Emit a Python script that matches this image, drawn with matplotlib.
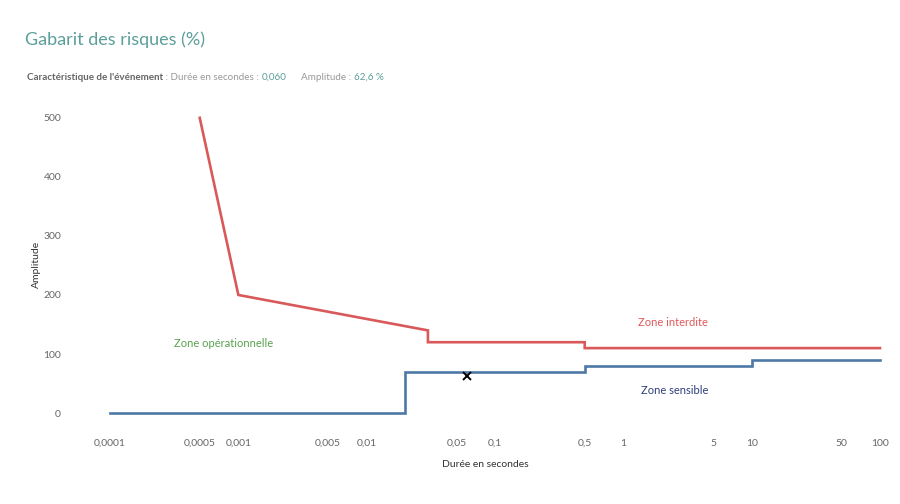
import numpy as np
import matplotlib.pyplot as plt

plt.rcParams['font.family'] = ['Lato', 'DejaVu Sans']

# gabarit (limites) : durée en secondes, amplitude en %
rouge_x = [0.0005, 0.001, 0.03, 0.03, 0.5, 0.5, 100]
rouge_y = [500, 200, 140, 120, 120, 110, 110]
bleu_x = [0.0001, 0.02, 0.02, 0.5, 0.5, 10, 10, 100]
bleu_y = [0, 0, 70, 70, 80, 80, 90, 90]

# événement
evt_duree = 0.060
evt_amplitude = 62.6

ticks_x = [0.0001, 0.0005, 0.001, 0.005, 0.01, 0.05, 0.1, 0.5, 1, 5, 10, 50, 100]
ticks_x_labels = ['0,0001', '0,0005', '0,001', '0,005', '0,01', '0,05', '0,1',
                  '0,5', '1', '5', '10', '50', '100']
ticks_y = [0, 100, 200, 300, 400, 500]

gris = '#666666'
teal = '#5b9e9a'

fig = plt.figure(figsize=(9, 5.04), dpi=100)
ax = fig.add_axes([75/900, 0.157, 820/900, 0.635])

ax.plot(rouge_x, rouge_y, color='#d9595a', lw=1.9, solid_joinstyle='miter')
ax.plot(bleu_x, bleu_y, color='#4e79a7', lw=1.9, solid_joinstyle='miter')
ax.plot(evt_duree, evt_amplitude, marker='x', color='black', ms=6, mew=1.4)

ax.set_xscale('log')
ax.set_xlim(10**-4.273, 10**2.117)
ax.set_ylim(-20, 522)
ax.set_xticks(ticks_x)
ax.set_xticklabels(ticks_x_labels)
ax.minorticks_off()
ax.set_yticks(ticks_y)
ax.tick_params(length=0, labelsize=7.5, labelcolor=gris)
ax.tick_params(axis='x', pad=10)
ax.tick_params(axis='y', pad=10)
for s in ax.spines.values():
    s.set_visible(False)

ax.set_xlabel('Durée en secondes', fontsize=7.5, color='#333333', labelpad=9)
ax.set_ylabel('Amplitude', fontsize=7.5, color='#333333', labelpad=2)

ax.text(0.00077, 117, 'Zone opérationnelle', color='#59a14f', fontsize=8, ha='center', va='center')
ax.text(2.45, 153, 'Zone interdite', color='#e15759', fontsize=8, ha='center', va='center')
ax.text(2.5, 38, 'Zone sensible', color='#2f3f7f', fontsize=8, ha='center', va='center')

fig.text(25/900, 1 - 40/504, 'Gabarit des risques (%)', color=teal, fontsize=13, va='center')
y_sous = 1 - 77/504
t = fig.text(27/900, y_sous, "Caractéristique de l'événement", color=gris,
             fontsize=7.1, fontweight='bold', va='center')
fig.canvas.draw()
x = t.get_window_extent().x1 / 900
morceaux = [(' : Durée en secondes : ', '#999999'), ('0,060', teal),
            ('      Amplitude : ', '#999999'), ('62,6 %', teal)]
for txt, c in morceaux:
    t = fig.text(x, y_sous, txt, color=c, fontsize=7.1, va='center')
    fig.canvas.draw()
    x = t.get_window_extent().x1 / 900

fig.savefig('out.png', dpi=100)
